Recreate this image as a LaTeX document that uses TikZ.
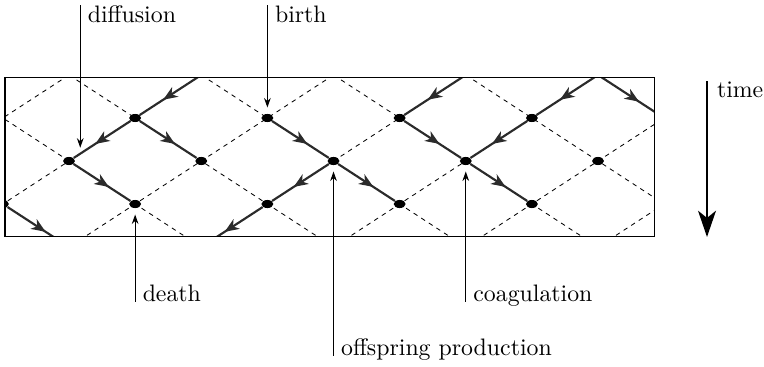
\documentclass[tikz,border=0pt]{standalone}
\usepackage{tikz}
\usepackage{xcolor}
\usetikzlibrary{arrows.meta,calc,decorations.markings,shapes.geometric}
\definecolor{walkgrey}{HTML}{2B2B2B}
\tikzset{
  site/.style={ellipse, fill=black, inner sep=0pt, minimum width=5pt,
               minimum height=3.4pt},
  lattice/.style={draw=black, line width=0.35pt, dash pattern=on 1.9pt off 1.9pt},
  walk/.style={color=walkgrey, line width=0.9pt,
    decoration={markings,
      mark=at position 0.62 with {\arrow{Stealth[length=6pt,width=4.8pt,inset=1.8pt]}}},
    postaction={decorate}},
  pointer/.style={-{Stealth[length=4pt,width=2.8pt]}, line width=0.45pt,
                  shorten >=2.5pt},
  lbl/.style={inner xsep=3pt, inner ysep=0pt},
  timeflow/.style={-{Stealth[length=11pt,width=7.5pt,inset=3pt]}, line width=1pt},
  frame/.style={draw=black, line width=0.5pt},
}

\begin{document}
\begin{tikzpicture}[x=27.77pt, y=18.06pt]
\useasboundingbox (-1.0435,2.744) rectangle (10.51,-5.767);

\coordinate (nw) at (-0.968,0.937);
\coordinate (se) at (8.85,-2.76);

% ---------------------------------------------------------------- lattice
\begin{scope}
\clip (nw) rectangle (se);
\foreach \c in {-3,-1,...,9}
  \draw[lattice] ({\c-1},1) -- ({\c+3},-3);
\foreach \c in {-1,1,...,11}
  \draw[lattice] ({\c+1},1) -- ({\c-3},-3);

% sites, column i and row j placed at (i,-j)
\foreach \i/\j in {0/1,1/0,1/2,2/1,3/0,3/2,4/1,5/0,5/2,6/1,7/0,7/2,8/1}
  \node[site] (s\i\j) at (\i,-\j) {};
\node[site] (w2) at (-1,-2) {};

% ---------------------------------------------------------------- walks
\coordinate (t2) at (2,1);
\coordinate (t6) at (6,1);
\coordinate (t8) at (8,1);
\coordinate (b0) at (0,-3);
\coordinate (b2) at (2,-3);
\coordinate (r0) at (9,0);

\draw[walk] (t2) -- (s10);
\draw[walk] (s10) -- (s01);
\draw[walk] (s10) -- (s21);
\draw[walk] (s01) -- (s12);
\draw[walk] (w2) -- (b0);
\draw[walk] (s30) -- (s41);
\draw[walk] (s41) -- (s32);
\draw[walk] (s41) -- (s52);
\draw[walk] (s32) -- (b2);
\draw[walk] (t6) -- (s50);
\draw[walk] (s50) -- (s61);
\draw[walk] (s70) -- (s61);
\draw[walk] (s61) -- (s72);
\draw[walk] (t8) -- (s70);
\draw[walk] (t8) -- (r0);
\end{scope}

\draw[frame] (nw) rectangle (se);

% ---------------------------------------------------------------- events
\node[lbl, anchor=north west] (diffusion) at (0.17,2.62) {diffusion};
\coordinate (dif) at ($(s10)!0.83!(s01)$);
\draw[pointer] (diffusion.north west) -- (dif);

\node[lbl, anchor=north west] (birth) at (3,2.62) {birth};
\draw[pointer] (birth.north west) -- (s30);

\node[lbl, anchor=base west] (death) at (1,-4.27) {death};
\draw[pointer] (death.base west) -- (s12);

\node[lbl, anchor=base west] (offspring) at (4,-5.53) {offspring production};
\draw[pointer] (offspring.base west) -- (s41);

\node[lbl, anchor=base west] (coagulation) at (6,-4.27) {coagulation};
\draw[pointer] (coagulation.base west) -- (s61);

% ---------------------------------------------------------------- time axis
\node[lbl, anchor=north west, inner xsep=4pt] (time) at (9.648,0.86) {time};
\coordinate (tend) at (9.648,-2.767);
\draw[timeflow] (time.north west) -- (tend);

\end{tikzpicture}
\end{document}
